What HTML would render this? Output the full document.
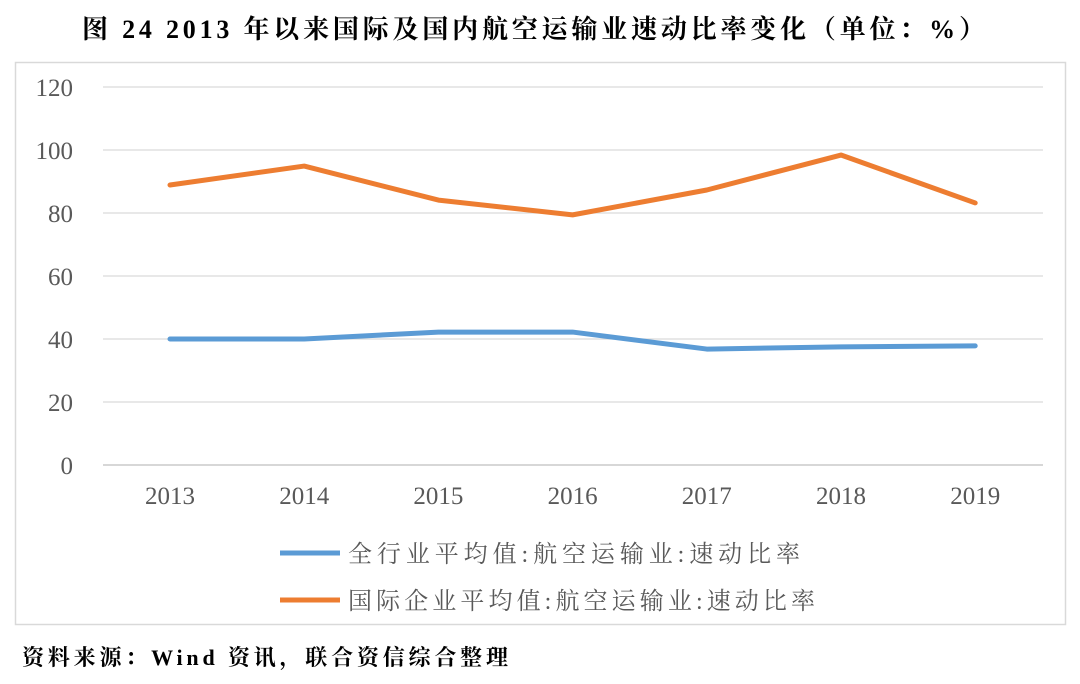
<!DOCTYPE html>
<html><head><meta charset="utf-8"><style>
body{margin:0;background:#fff;width:1080px;height:679px;overflow:hidden;font-family:"Liberation Serif","Noto Serif CJK SC",serif;}
</style></head><body>
<svg width="1080" height="679" xmlns="http://www.w3.org/2000/svg">
<text x="82" y="38" textLength="903" lengthAdjust="spacing" font-size="26" font-weight="bold" fill="#000" font-family="Liberation Serif, Noto Serif CJK SC, serif">图 24  2013 年以来国际及国内航空运输业速动比率变化（单位：%）</text>
<rect x="15.5" y="62.5" width="1050" height="562" fill="none" stroke="#d9d9d9" stroke-width="1.5"/>
<g id="grid"></g><g id="series"></g>
<line x1="280" y1="553" x2="340" y2="553" stroke="#5b9bd5" stroke-width="5"/>
<text x="348" y="562" textLength="452" lengthAdjust="spacing" font-size="24" fill="#595959" font-family="Liberation Serif, Noto Serif CJK SC, serif">全行业平均值:航空运输业:速动比率</text>
<line x1="280" y1="600" x2="340" y2="600" stroke="#ed7d31" stroke-width="5"/>
<text x="348" y="609" textLength="467" lengthAdjust="spacing" font-size="24" fill="#595959" font-family="Liberation Serif, Noto Serif CJK SC, serif">国际企业平均值:航空运输业:速动比率</text>
<text x="22" y="665" textLength="486" lengthAdjust="spacing" font-size="22" fill="#000" font-weight="bold" font-family="Liberation Serif, Noto Serif CJK SC, serif">资料来源：Wind 资讯，联合资信综合整理</text>
</svg>
<script>
const years=["2013","2014","2015","2016","2017","2018","2019"];
const industryAvg=[40,40,42.2,42.2,36.8,37.5,37.8];
const internationalAvg=[88.9,94.9,84.1,79.4,87.3,98.4,83.2];
const yTicks=[0,20,40,60,80,100,120];
const NS="http://www.w3.org/2000/svg";
const y=v=>465-v*(378/120);
const x=i=>170+i*134.2;
const grid=document.getElementById('grid'),series=document.getElementById('series');
function mk(t,a,p){const e=document.createElementNS(NS,t);for(const k in a)e.setAttribute(k,a[k]);p.appendChild(e);return e;}
yTicks.forEach(v=>{
 const l=mk('line',{x1:103,x2:1043,y1:y(v),y2:y(v),stroke:v===0?'#bfbfbf':'#d9d9d9','stroke-width':1.3},grid);
 
 
 const t=mk('text',{x:73,y:y(v)+9,'text-anchor':'end','font-size':25,fill:'#595959'},grid);
 t.textContent=v;
 
 
});
years.forEach((yr,i)=>{
 const t=mk('text',{x:x(i),y:504,'text-anchor':'middle','font-size':25,fill:'#595959'},grid);
 t.textContent=yr;
 
 
});
[[industryAvg,'#5b9bd5','line-industry-average'],[internationalAvg,'#ed7d31','line-international-average']].forEach(([d,c,n])=>{
 const p=mk('polyline',{points:d.map((v,i)=>x(i)+','+y(v)).join(' '),fill:'none',stroke:c,'stroke-width':5,'stroke-linejoin':'round','stroke-linecap':'round'},series);
 
 
});
</script>
</body></html>
